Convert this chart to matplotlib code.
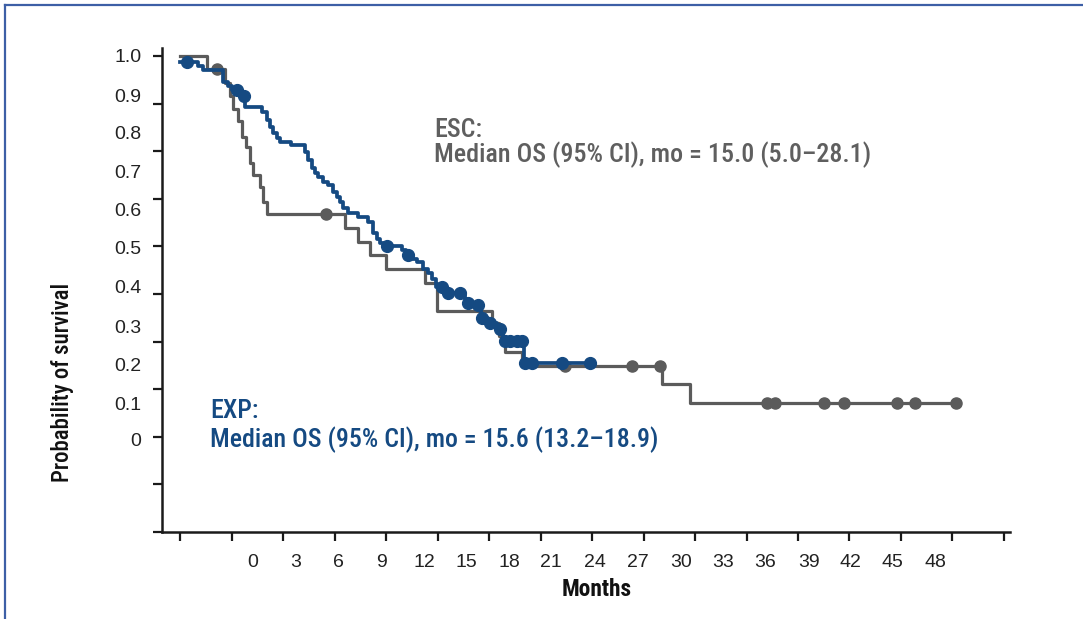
import numpy as np
import matplotlib
matplotlib.use("Agg")
import matplotlib.pyplot as plt
from matplotlib.lines import Line2D
from matplotlib import font_manager

# ESC arm (grey): step times (months) and survival after each step
esc_time = [0, 1.57, 2.62, 2.91, 3.09, 3.38, 3.61, 3.84, 4.08, 4.25, 4.66, 4.83, 5.07,
            9.61, 10.37, 11.07, 12.00, 14.27, 14.97, 18.17, 18.58, 18.93, 19.92,
            28.07, 29.70, 45.2]
esc_surv = [1.0, 0.966, 0.929, 0.895, 0.861, 0.83, 0.787, 0.761, 0.72, 0.688, 0.656, 0.617, 0.585,
            0.549, 0.512, 0.478, 0.441, 0.404, 0.33, 0.30, 0.265, 0.223, 0.186,
            0.139, 0.089, 0.089]
esc_cens = [2.15, 8.50, 22.42, 26.33, 27.96, 34.19, 34.65, 37.51, 38.67, 41.76, 42.81, 45.2]

# EXP arm (blue)
exp_time = [0, 1.05, 1.34, 2.50, 2.80, 3.03, 3.49, 3.79, 4.78, 5.07, 5.24, 5.42, 5.65, 5.82,
            6.46, 7.28, 7.45, 7.69, 7.86, 8.04, 8.33, 8.62, 8.91, 9.14, 9.32, 9.49, 9.78,
            10.37, 10.95, 11.24, 11.47, 11.65, 11.88, 12.93, 13.16, 13.57, 13.80, 14.15,
            14.44, 14.68, 14.91, 15.49, 16.60, 16.77, 17.24, 17.53, 17.94, 18.46, 18.81,
            20.03, 23.88]
exp_surv = [0.984, 0.975, 0.964, 0.932, 0.922, 0.910, 0.895, 0.866, 0.853, 0.832, 0.814, 0.798,
            0.785, 0.775, 0.766, 0.748, 0.727, 0.706, 0.693, 0.682, 0.669, 0.661, 0.643, 0.630,
            0.617, 0.601, 0.588, 0.577, 0.564, 0.535, 0.520, 0.509, 0.501, 0.490, 0.478, 0.467,
            0.458, 0.441, 0.430, 0.415, 0.394, 0.378, 0.363, 0.352, 0.346, 0.312, 0.299, 0.283,
            0.251, 0.195, 0.195]
exp_cens = [0.41, 3.32, 3.73, 12.06, 13.28, 15.26, 15.61, 16.31, 16.77, 17.36, 17.59, 18.05,
            18.64, 18.93, 19.22, 19.63, 19.92, 20.09, 20.50, 22.25, 23.88]

# tick marks and (offset) tick labels as they appear on the slide
x_tick_marks = np.arange(0, 49, 3)
x_labels = ["0", "3", "6", "9", "12", "15", "18", "21", "24", "27", "30", "33", "36", "39", "42", "45", "48"]
x_label_pos = [4.25, 6.76, 9.20, 11.71, 14.21, 16.71, 19.16, 21.61, 24.17, 26.68, 29.18,
               31.63, 34.07, 36.64, 39.08, 41.53, 43.98]
y_tick_marks = 1 - 0.125 * np.arange(11)
y_labels = ["1.0", "0.9", "0.8", "0.7", "0.6", "0.5", "0.4", "0.3", "0.2", "0.1", "0"]
y_label_pos = [1.0, 0.895, 0.798, 0.696, 0.596, 0.497, 0.396, 0.289, 0.189, 0.087, -0.008]

grey = "#5b5b5b"
blue = "#154a82"


def pick_font(names):
    for n in names:
        try:
            font_manager.findfont(font_manager.FontProperties(family=n), fallback_to_default=False)
            return n
        except Exception:
            pass
    return "DejaVu Sans"


narrow = [pick_font(["Roboto Condensed", "Liberation Sans Narrow", "Open Sans Condensed",
                     "Roboto", "Liberation Sans"]), "DejaVu Sans"]


def at(times, surv, t):
    idx = np.searchsorted(times, t, side="right") - 1
    return np.array(surv)[idx]


def fit_width(txt, width_px, renderer):
    w = txt.get_window_extent(renderer).width
    txt.set_fontsize(txt.get_fontsize() * width_px / w)


fig = plt.figure(figsize=(10.83, 6.19), dpi=100)
ax = fig.add_axes([162 / 1083, 1 - 532 / 619, (1010 - 162) / 1083, (532 - 48) / 619])

ax.step(esc_time, esc_surv, where="post", color=grey, lw=2.3, zorder=2)
ax.plot(esc_cens, at(esc_time, esc_surv, esc_cens), "o", color=grey, ms=8, zorder=3)
ax.step(exp_time, exp_surv, where="post", color=blue, lw=2.7, zorder=4)
ax.plot(exp_cens, at(exp_time, exp_surv, exp_cens), "o", color=blue, ms=8.5, zorder=5)

ax.set_xlim(-1.05, 48.35)
ax.set_ylim(-0.25, 1.021)

for s in ["top", "right"]:
    ax.spines[s].set_visible(False)
for s in ["left", "bottom"]:
    ax.spines[s].set_linewidth(1.8)
    ax.spines[s].set_color("#1a1a1a")

ax.xaxis.remove_overlapping_locs = False
ax.yaxis.remove_overlapping_locs = False
ax.set_xticks(x_label_pos, x_labels)
ax.set_xticks(x_tick_marks, minor=True)
ax.set_yticks(y_label_pos, y_labels)
ax.set_yticks(y_tick_marks, minor=True)
ax.tick_params(which="major", length=0, labelsize=14, colors="#222222")
ax.tick_params(axis="x", which="major", pad=16)
ax.tick_params(axis="y", which="major", pad=15)
ax.tick_params(which="minor", length=6.5, width=1.6, color="#1a1a1a", direction="out")
for lab in ax.get_xticklabels() + ax.get_yticklabels():
    lab.set_family(["Liberation Sans", "DejaVu Sans"])

t_ylab = fig.text(62 / 1083, 1 - 382 / 619, "Probability of survival", rotation=90, ha="center",
                  va="center", fontsize=17, family=narrow, fontweight="medium", color="#111111")
t_xlab = fig.text(597 / 1083, 1 - 590 / 619, "Months", ha="center", va="center",
                  fontsize=16.5, family=narrow, fontweight="bold", color="#111111")

t1 = fig.text(434 / 1083, 1 - 137 / 619, "ESC:", fontsize=19, family=narrow, color="#5f5f5f",
              va="baseline", fontweight="medium")
t2 = fig.text(434 / 1083, 1 - 162 / 619, "Median OS (95% CI), mo = 15.0 (5.0\u201328.1)", fontsize=19,
              family=narrow, color="#5f5f5f", va="baseline", fontweight="medium")
t3 = fig.text(210 / 1083, 1 - 418 / 619, "EXP:", fontsize=19, family=narrow, color=blue,
              va="baseline", fontweight="medium")
t4 = fig.text(210 / 1083, 1 - 447 / 619, "Median OS (95% CI), mo = 15.6 (13.2\u201318.9)", fontsize=19,
              family=narrow, color=blue, va="baseline", fontweight="medium")

# scale text sizes to the widths measured on the slide
r = fig.canvas.get_renderer()
fit_width(t2, 439, r)
t1.set_fontsize(t2.get_fontsize())
fit_width(t4, 450, r)
t3.set_fontsize(t4.get_fontsize())
fit_width(t_xlab, 70, r)
# rotated text: its height on screen is the string length
w = t_ylab.get_window_extent(r).height
t_ylab.set_fontsize(t_ylab.get_fontsize() * 200 / w)

# slide frame
fig.add_artist(Line2D([5 / 1083, 1], [1 - 5 / 619, 1 - 5 / 619], color="#3d5fa6", lw=1.6,
                      transform=fig.transFigure))
fig.add_artist(Line2D([5 / 1083, 5 / 1083], [0, 1 - 5 / 619], color="#3d5fa6", lw=1.6,
                      transform=fig.transFigure))

fig.savefig("out.png", dpi=100)
